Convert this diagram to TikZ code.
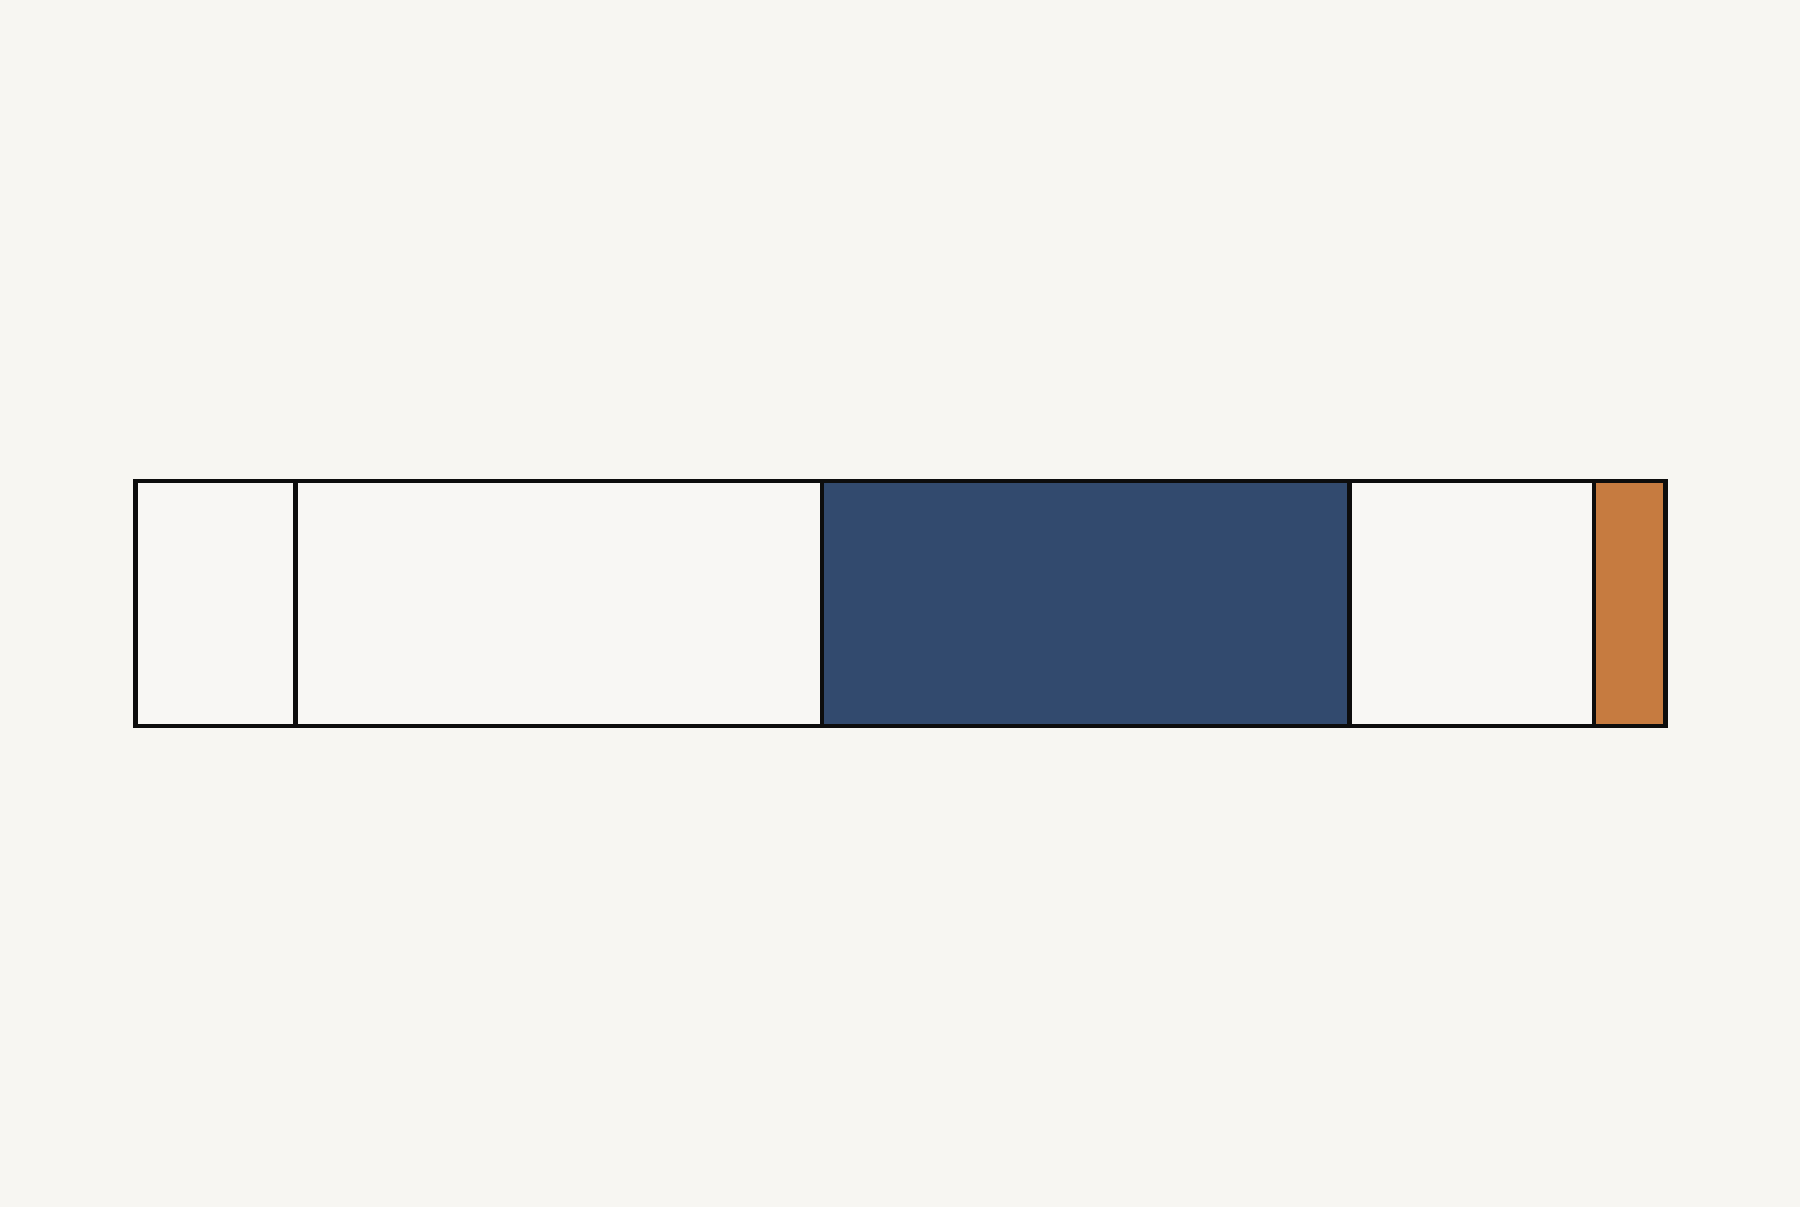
\documentclass[tikz,border=0pt]{standalone}
\usetikzlibrary{positioning}

\definecolor{paper}{HTML}{F7F6F2}
\definecolor{cellwhite}{HTML}{F8F7F4}
\definecolor{navy}{HTML}{324A6E}
\definecolor{ochre}{HTML}{C67B40}

\tikzstyle{cell}=[
    rectangle,
    line width=1.2pt,
    minimum height=2.45cm,
    inner sep=0pt,
    outer sep=0pt,
    draw=black!95,
    fill=cellwhite
]
\tikzstyle{filled}=[
    cell,
    fill=navy
]
\tikzstyle{accent}=[
    cell,
    fill=ochre
]

\begin{document}
\begin{tikzpicture}[node distance=0pt]
	% background and margins
	\fill[paper] (0,0) rectangle (18,12.07);
	\useasboundingbox (0,0) rectangle (18,12.07);

	% the bar, left to right
	\node (c_1) [cell, minimum width=1.6cm, anchor=south west] at (1.355,4.81) {};
	\node (c_2) [cell, minimum width=5.265cm, right=of c_1] {};
	\node (c_3) [filled, minimum width=5.275cm, right=of c_2] {};
	\node (c_4) [cell, minimum width=2.445cm, right=of c_3] {};
	\node (c_5) [accent, minimum width=0.715cm, right=of c_4] {};
\end{tikzpicture}
\end{document}
